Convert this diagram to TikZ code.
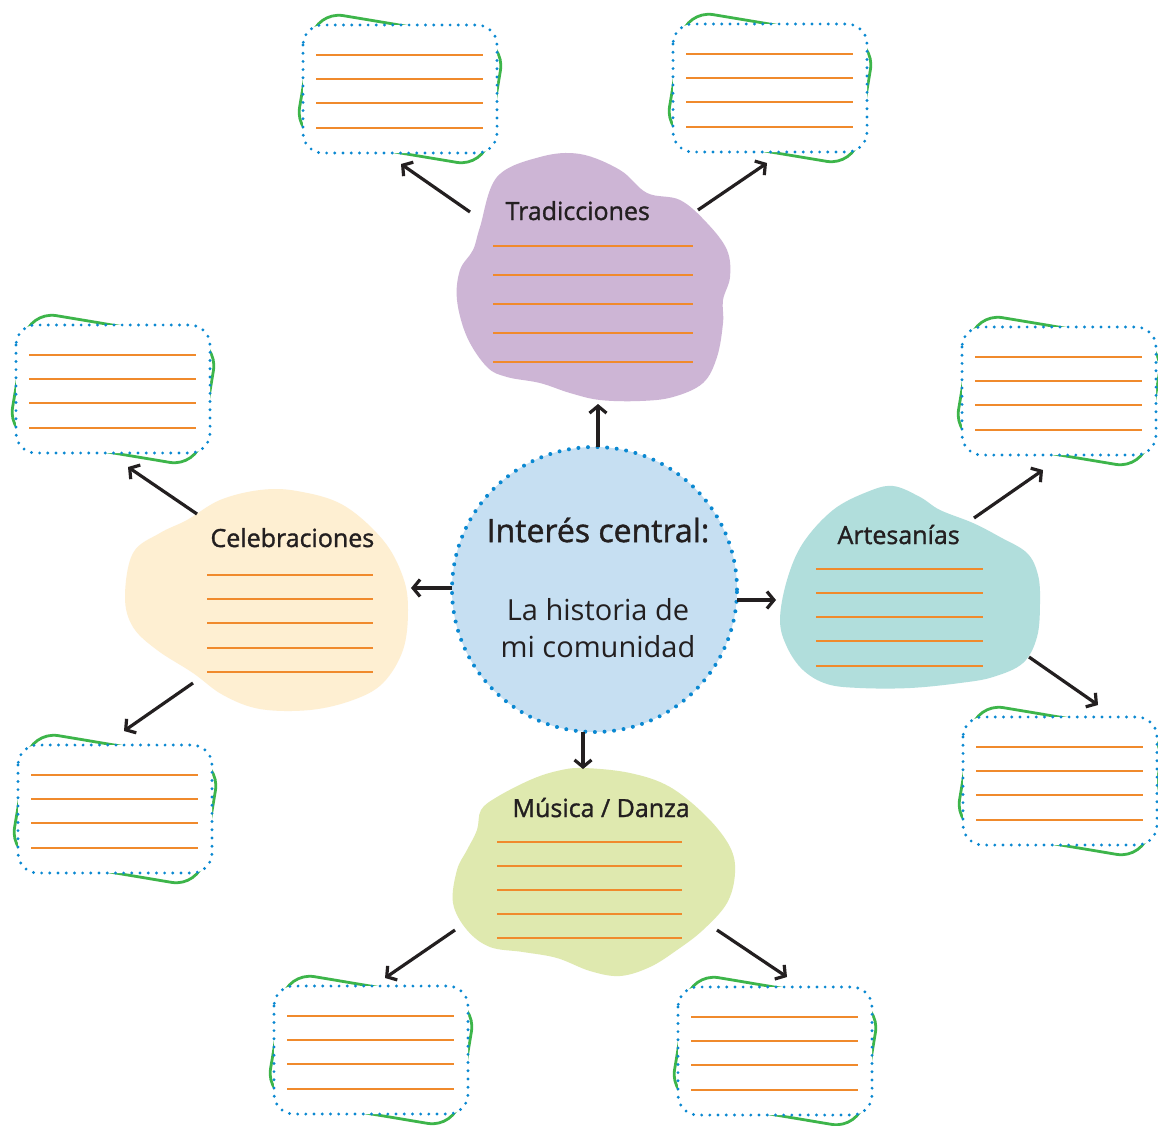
\documentclass[tikz,border=0pt]{standalone}
\usepackage{fontspec}
\setmainfont{Open Sans}
\newfontfamily\titlefont{Open Sans}[FakeBold=1.3]
\usetikzlibrary{arrows.meta}
\definecolor{purp}{HTML}{CDB5D5}
\definecolor{cream}{HTML}{FEEFD2}
\definecolor{teal}{HTML}{B1DEDC}
\definecolor{lime}{HTML}{DFE9AF}
\definecolor{circfill}{HTML}{C6DFF2}
\definecolor{dotblue}{HTML}{0A88D1}
\definecolor{cardgreen}{HTML}{3DB54A}
\definecolor{oline}{HTML}{F08A2C}
\definecolor{arrowc}{HTML}{231F20}
\tikzset{
  greenbox/.style={draw=cardgreen, line width=2.8pt, rounded corners=28pt},
  dotbox/.style={draw=dotblue, fill=white, line width=3.2pt, dash pattern=on 0pt off 8.2pt, line cap=round, rounded corners=20pt},
  wline/.style={draw=oline, line width=1.1pt},
  arr/.style={draw=arrowc, line width=3.2pt, -{Straight Barb[length=7pt,width=17pt]}},
  title/.style={font=\titlefont\fontsize{25}{30}\selectfont, text=arrowc, anchor=base west},
}
\newcommand\mycard[3]{%
  \begin{scope}[shift={(#2,#3)}]
    \draw[greenbox, rotate=-9.5] (-96,-63) rectangle (96,63);
    \draw[dotbox] (-97,-64) rectangle (97,64);
    \foreach \yy in {-34,-10,14,39} \draw[wline] (-84,\yy) -- (83,\yy);
    \coordinate (#1) at (0,0);
  \end{scope}}
\begin{document}
\begin{tikzpicture}[x=1pt,y=-1pt]
\useasboundingbox (0,0) rectangle (1158,1125);
\fill[white] (0,0) rectangle (1158,1125);

% cards
\mycard{c1}{400}{89}
\mycard{c2}{770}{88}
\mycard{c3}{113}{389}
\mycard{c4}{1059}{391}
\mycard{c5}{115}{809}
\mycard{c6}{1060}{781}
\mycard{c7}{371}{1050}
\mycard{c8}{775}{1051}

% blobs
\fill[purp] plot[smooth cycle, tension=0.6] coordinates {
 (480,227) (497,177) (540,157) (580,154) (620,170) (647,193) (680,200) (707,223)
 (727,250) (730,277) (723,300) (723,323) (717,357) (703,383) (673,397) (640,401)
 (600,400) (570,393) (540,383) (507,377) (487,367) (467,337) (457,300) (460,270) (473,250)};
\fill[cream] plot[smooth cycle, tension=0.6] coordinates {
 (125,597) (133,553) (160,533) (187,520) (220,500) (260,490) (297,491) (343,505)
 (383,540) (403,577) (408,610) (403,650) (383,683) (353,700) (310,710) (260,709)
 (223,695) (193,673) (157,650) (133,627)};
\fill[teal] plot[smooth cycle, tension=0.6] coordinates {
 (780,620) (787,580) (803,543) (833,510) (867,492) (893,486) (920,497) (940,510)
 (973,523) (1000,537) (1027,553) (1038,575) (1040,603) (1037,637) (1023,663)
 (993,677) (960,683) (910,688) (860,688) (827,684) (803,670) (787,647)};
\fill[lime] plot[smooth cycle, tension=0.6] coordinates {
 (583,768) (630,773) (670,787) (707,817) (730,847) (735,873) (727,903) (703,930)
 (677,950) (650,967) (620,976) (590,971) (557,958) (523,952) (490,947) (467,930)
 (453,903) (457,870) (467,850) (477,830) (481,810) (497,797) (530,780) (557,771)};

% blob titles and lines
\node[title] (ttrad) at (502,220) {Tradicciones};
\foreach \yy in {246,275,304,333,362} \draw[wline] (493,\yy) -- (693,\yy);
\node[title] (tcele) at (207,547) {Celebraciones};
\foreach \yy in {575,599,623,648,672} \draw[wline] (207,\yy) -- (373,\yy);
\node[title] (tarte) at (834,544) {Artesanías};
\foreach \yy in {569,593,617,641,666} \draw[wline] (816,\yy) -- (983,\yy);
\node[title] (tmus) at (509,817) {Música / Danza};
\foreach \yy in {842,866,890,914,938} \draw[wline] (497,\yy) -- (682,\yy);

% center circle
\node[circle, minimum size=285pt, inner sep=0pt, fill=circfill, draw=dotblue,
      line width=4pt, dash pattern=on 0pt off 9.6pt, line cap=round] (ctr) at (594.5,589.5) {};
\node[font=\titlefont\fontsize{32}{38}\selectfont, text=arrowc] (ctitle) at (598,530) {Interés central:};
\node[font=\fontsize{29}{37}\selectfont, text=arrowc, align=center] (ctext) at (598,628)
  {La historia de\\mi comunidad};

% arrow endpoints
\coordinate (a1s) at (598,447); \coordinate (a1e) at (598,404);
\coordinate (a2s) at (452,588); \coordinate (a2e) at (411,588);
\coordinate (a3s) at (737,600); \coordinate (a3e) at (776,600);
\coordinate (a4s) at (583,732); \coordinate (a4e) at (583,769);
\coordinate (b1s) at (470,212); \coordinate (b1e) at (401,164);
\coordinate (b2s) at (698,210); \coordinate (b2e) at (767,163);
\coordinate (b3s) at (197,514); \coordinate (b3e) at (128,467);
\coordinate (b4s) at (193,683); \coordinate (b4e) at (124,731);
\coordinate (b5s) at (974,518); \coordinate (b5e) at (1043,470);
\coordinate (b6s) at (1029,657); \coordinate (b6e) at (1098,705);
\coordinate (b7s) at (455,930); \coordinate (b7e) at (385,978);
\coordinate (b8s) at (717,930); \coordinate (b8e) at (787,977);

\foreach \s/\e in {a1s/a1e,a2s/a2e,a3s/a3e,a4s/a4e,b1s/b1e,b2s/b2e,b3s/b3e,b4s/b4e,b5s/b5e,b6s/b6e,b7s/b7e,b8s/b8e}
  \draw[arr] (\s) -- (\e);
\end{tikzpicture}
\end{document}
